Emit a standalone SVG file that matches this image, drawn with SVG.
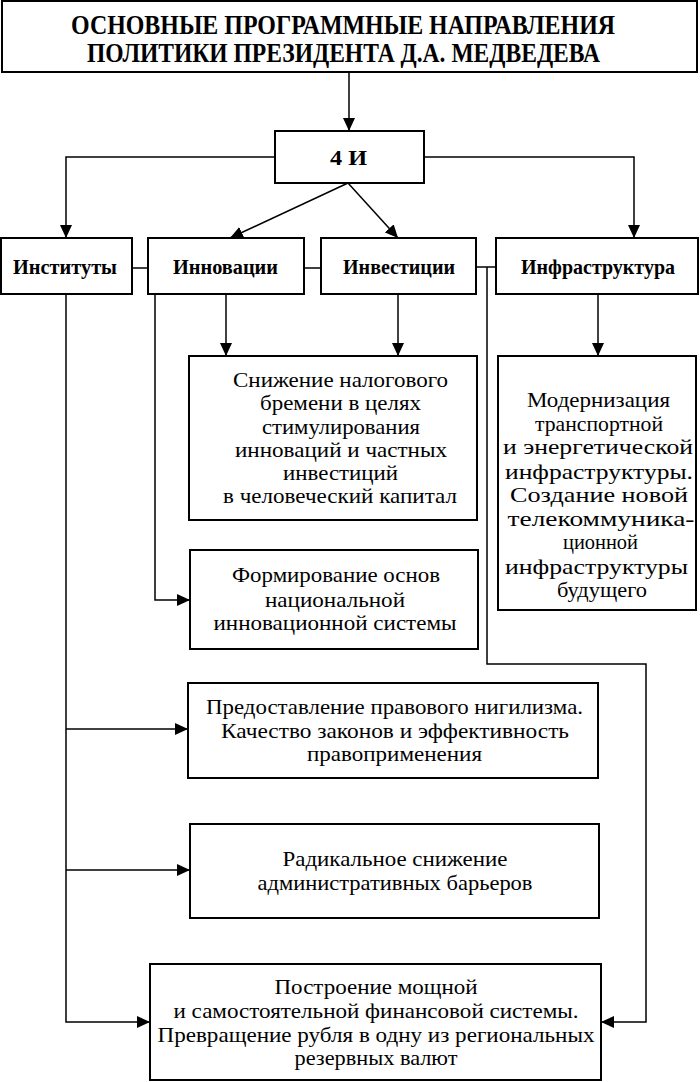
<svg xmlns="http://www.w3.org/2000/svg" width="700" height="1082" viewBox="0 0 700 1082">
<style>
.box{fill:#fff;stroke:#000;stroke-width:2}
.ln{fill:none;stroke:#000;stroke-width:1.5}
text{font-family:'Liberation Serif','Times New Roman','DejaVu Serif',serif;fill:#000;text-anchor:middle}
.t{font-size:27px;font-weight:bold}
.h{font-size:22px;font-weight:bold}
.n{font-size:22px}
.c{font-size:22px}
</style>
<defs>
<marker id="ar" markerUnits="userSpaceOnUse" markerWidth="14" markerHeight="12" refX="13" refY="6" orient="auto">
<path d="M0,0 L13,6 L0,12 Z" fill="#000"/>
</marker>
</defs>
<rect width="700" height="1082" fill="#fff"/>
<g id="connectors">
<line class="ln" x1="349" y1="72" x2="349" y2="131" marker-end="url(#ar)"/>
<polyline class="ln" points="275,157 66,157 66,238" marker-end="url(#ar)"/>
<polyline class="ln" points="424,157 634,157 634,238" marker-end="url(#ar)"/>
<line class="ln" x1="348" y1="183" x2="230" y2="238" marker-end="url(#ar)"/>
<line class="ln" x1="348" y1="183" x2="398" y2="238" marker-end="url(#ar)"/>
<line class="ln" x1="132" y1="268" x2="148" y2="268"/>
<line class="ln" x1="304" y1="268" x2="321" y2="268"/>
<line class="ln" x1="476" y1="267" x2="496" y2="267"/>
<polyline class="ln" points="155,294 155,600 190,600" marker-end="url(#ar)"/>
<line class="ln" x1="226" y1="294" x2="226" y2="356" marker-end="url(#ar)"/>
<line class="ln" x1="398" y1="294" x2="398" y2="356" marker-end="url(#ar)"/>
<line class="ln" x1="598" y1="294" x2="598" y2="356" marker-end="url(#ar)"/>
<polyline class="ln" points="66,294 66,1022 150,1022" marker-end="url(#ar)"/>
<line class="ln" x1="66" y1="729" x2="188" y2="729" marker-end="url(#ar)"/>
<line class="ln" x1="66" y1="870" x2="190" y2="870" marker-end="url(#ar)"/>
<polyline class="ln" points="487,267 487,664 646,664 646,1022 601,1022" marker-end="url(#ar)"/>
</g>
<g font-family="Liberation Serif, Times New Roman, serif">
<g id="title">
<rect class="box" x="2" y="1" width="695" height="71"/>
<text class="t" x="343" y="34" textLength="544" lengthAdjust="spacingAndGlyphs">ОСНОВНЫЕ ПРОГРАММНЫЕ НАПРАВЛЕНИЯ</text>
<text class="t" x="343.5" y="62" textLength="513" lengthAdjust="spacingAndGlyphs">ПОЛИТИКИ ПРЕЗИДЕНТА Д.А. МЕДВЕДЕВА</text>
</g>
<g id="n4i">
<rect class="box" x="275" y="131" width="149" height="52"/>
<text class="h" x="348.5" y="165" textLength="37" lengthAdjust="spacingAndGlyphs">4 И</text>
</g>
<g id="instituty">
<rect class="box" x="1" y="238" width="131" height="56"/>
<text class="h" x="65" y="274" textLength="104" lengthAdjust="spacingAndGlyphs">Институты</text>
</g>
<g id="innovacii">
<rect class="box" x="148" y="238" width="156" height="56"/>
<text class="h" x="225.5" y="274" textLength="105" lengthAdjust="spacingAndGlyphs">Инновации</text>
</g>
<g id="investicii">
<rect class="box" x="321" y="238" width="155" height="56"/>
<text class="h" x="399" y="274" textLength="112" lengthAdjust="spacingAndGlyphs">Инвестиции</text>
</g>
<g id="infrastruktura">
<rect class="box" x="496" y="238" width="202" height="56"/>
<text class="h" x="598" y="274" textLength="154" lengthAdjust="spacingAndGlyphs">Инфраструктура</text>
</g>
<g id="snizhenie">
<rect class="box" x="189" y="356" width="288" height="164"/>
<text class="n" x="340.5" y="387" textLength="215" lengthAdjust="spacingAndGlyphs">Снижение налогового</text>
<text class="n" x="340.5" y="410" textLength="161" lengthAdjust="spacingAndGlyphs">бремени в целях</text>
<text class="n" x="341" y="434" textLength="158" lengthAdjust="spacingAndGlyphs">стимулирования</text>
<text class="n" x="341" y="457" textLength="212" lengthAdjust="spacingAndGlyphs">инноваций и частных</text>
<text class="n" x="340.5" y="480" textLength="115" lengthAdjust="spacingAndGlyphs">инвестиций</text>
<text class="n" x="340" y="503" textLength="234" lengthAdjust="spacingAndGlyphs">в человеческий капитал</text>
</g>
<g id="formirovanie">
<rect class="box" x="190" y="550" width="288" height="99"/>
<text class="n" x="336" y="582" textLength="208" lengthAdjust="spacingAndGlyphs">Формирование основ</text>
<text class="n" x="335" y="607" textLength="140" lengthAdjust="spacingAndGlyphs">национальной</text>
<text class="c" x="335" y="630" textLength="243" lengthAdjust="spacingAndGlyphs">инновационной системы</text>
</g>
<g id="modernizaciya">
<rect class="box" x="498" y="356" width="198" height="254"/>
<text class="n" x="598.5" y="407" textLength="143" lengthAdjust="spacingAndGlyphs">Модернизация</text>
<text class="n" x="599" y="431" textLength="128" lengthAdjust="spacingAndGlyphs">транспортной</text>
<text class="n" x="598" y="454" textLength="190" lengthAdjust="spacingAndGlyphs">и энергетической</text>
<text class="n" x="599" y="479" textLength="188" lengthAdjust="spacingAndGlyphs">инфраструктуры.</text>
<text class="n" x="599" y="502" textLength="178" lengthAdjust="spacingAndGlyphs">Создание новой</text>
<text class="n" x="601" y="526" textLength="187" lengthAdjust="spacingAndGlyphs">телекоммуника-</text>
<text class="n" x="600.5" y="549" textLength="75" lengthAdjust="spacingAndGlyphs">ционной</text>
<text class="n" x="596.5" y="574" textLength="183" lengthAdjust="spacingAndGlyphs">инфраструктуры</text>
<text class="n" x="602" y="597" textLength="90" lengthAdjust="spacingAndGlyphs">будущего</text>
</g>
<g id="predostavlenie">
<rect class="box" x="188" y="683" width="410" height="95"/>
<text class="c" x="394.5" y="714" textLength="377" lengthAdjust="spacingAndGlyphs">Предоставление правового нигилизма.</text>
<text class="c" x="395" y="738" textLength="348" lengthAdjust="spacingAndGlyphs">Качество законов и эффективность</text>
<text class="c" x="394.5" y="761" textLength="175" lengthAdjust="spacingAndGlyphs">правоприменения</text>
</g>
<g id="radikalnoe">
<rect class="box" x="190" y="824" width="409" height="94"/>
<text class="c" x="395" y="866" textLength="225" lengthAdjust="spacingAndGlyphs">Радикальное снижение</text>
<text class="c" x="395" y="890" textLength="275" lengthAdjust="spacingAndGlyphs">административных барьеров</text>
</g>
<g id="postroenie">
<rect class="box" x="150" y="964" width="451" height="116"/>
<text class="c" x="376" y="994" textLength="203" lengthAdjust="spacingAndGlyphs">Построение мощной</text>
<text class="c" x="376" y="1018" textLength="405" lengthAdjust="spacingAndGlyphs">и самостоятельной финансовой системы.</text>
<text class="c" x="376" y="1042" textLength="437" lengthAdjust="spacingAndGlyphs">Превращение рубля в одну из региональных</text>
<text class="c" x="376" y="1065" textLength="163" lengthAdjust="spacingAndGlyphs">резервных валют</text>
</g>
</g>
</svg>
